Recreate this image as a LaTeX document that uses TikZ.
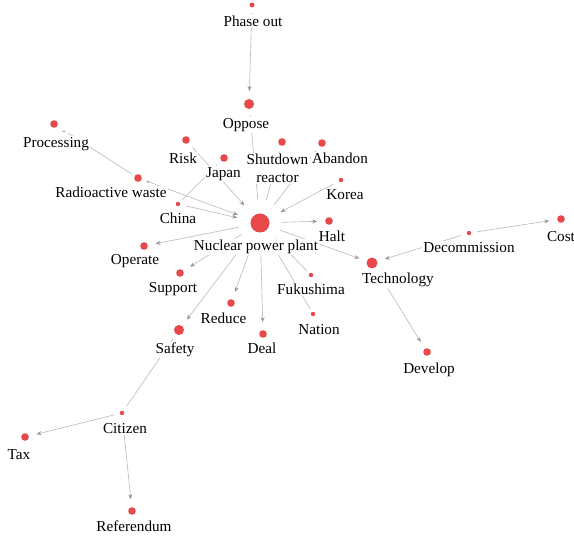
\documentclass[tikz,border=0pt]{standalone}
\usepackage{fontspec}
\setmainfont{Liberation Serif}
\usetikzlibrary{arrows.meta}
\definecolor{dotred}{RGB}{232,72,74}
\definecolor{edgegray}{RGB}{185,185,185}
\definecolor{tipgray}{RGB}{150,150,150}
\pgfdeclarelayer{edges}
\pgfsetlayers{edges,main}
\tikzset{
  dot/.style={circle,fill=dotred,draw=none,inner sep=0pt,outer sep=0pt,minimum size=#1},
  lbl/.style={anchor=base,fill=white,inner sep=1.2pt,font=\fontsize{15.2}{18}\selectfont},
  link/.style={draw=edgegray,line width=0.6pt,shorten <=6pt,shorten >=3.5pt},
  arr/.style={link,shorten >=8pt,-{Stealth[length=5pt,width=4pt,fill=tipgray,color=tipgray]}},
}
\begin{document}
\begin{tikzpicture}[x=1pt,y=-1pt]
\useasboundingbox (0,0) rectangle (574,537);
% labels
\node[lbl] (lphase) at (253,26.5) {Phase out};
\node[lbl] (loppose) at (246,128.5) {Oppose};
\node[lbl] (lproc) at (56,147.5) {Processing};
\node[lbl] (lrisk) at (183,163.5) {Risk};
\node[lbl] (ljapan) at (223.5,177.5) {Japan};
\node[lbl,align=center] (lshut) at (277.5,182.5) {Shutdown\\reactor};
\node[lbl] (laband) at (340,163.5) {Abandon};
\node[lbl] (lkorea) at (345,200) {Korea};
\node[lbl] (lrad) at (111,197.5) {Radioactive waste};
\node[lbl] (lchina) at (178,223.5) {China};
\node[lbl] (lplant) at (256,250.5) {Nuclear power plant};
\node[lbl] (lhalt) at (332,242) {Halt};
\node[lbl] (loper) at (135,265) {Operate};
\node[lbl] (lsupp) at (173,293) {Support};
\node[lbl] (lfuku) at (311,294.5) {Fukushima};
\node[lbl] (ltech) at (398,283.5) {Technology};
\node[lbl] (ldecom) at (469,252.5) {Decommission};
\node[lbl] (lcost) at (561,241.5) {Cost};
\node[lbl] (lred) at (223.5,323.5) {Reduce};
\node[lbl] (lnat) at (319,334.5) {Nation};
\node[lbl] (lsafe) at (175,354) {Safety};
\node[lbl] (ldeal) at (262,353.5) {Deal};
\node[lbl] (ldev) at (429,373.5) {Develop};
\node[lbl] (lcit) at (125,433.5) {Citizen};
\node[lbl] (ltax) at (19,459.5) {Tax};
\node[lbl] (lref) at (134,531.5) {Referendum};
% dots
\node[dot=5pt] (phase) at (252,5) {};
\node[dot=10pt] (oppose) at (249,104) {};
\node[dot=7.6pt] (proc) at (54,124) {};
\node[dot=7.6pt] (risk) at (186,140) {};
\node[dot=7.6pt] (japan) at (224,158) {};
\node[dot=7.6pt] (shut) at (282,142) {};
\node[dot=7.6pt] (aband) at (322,143) {};
\node[dot=4.4pt] (korea) at (341,180) {};
\node[dot=7.6pt] (rad) at (138,178) {};
\node[dot=4.4pt] (china) at (178,204) {};
\node[dot=19pt,outer sep=6pt] (plant) at (260,223) {};
\node[dot=7.6pt] (halt) at (329,221) {};
\node[dot=7.6pt] (oper) at (144,246) {};
\node[dot=7.6pt] (supp) at (180,273) {};
\node[dot=4.4pt] (fuku) at (311,275) {};
\node[dot=11pt] (tech) at (372,263) {};
\node[dot=4.4pt] (decom) at (469,233) {};
\node[dot=7.6pt] (cost) at (561,219) {};
\node[dot=7.6pt] (red) at (231,303) {};
\node[dot=4.4pt] (nat) at (313,314) {};
\node[dot=10pt] (safe) at (179,330) {};
\node[dot=7.6pt] (deal) at (263,334) {};
\node[dot=7.6pt] (dev) at (427,352) {};
\node[dot=4.4pt] (cit) at (122,413) {};
\node[dot=7.6pt] (tax) at (25,437) {};
\node[dot=7.6pt] (ref) at (132,511) {};
\coordinate (mk1) at (64,131);
\coordinate (mk2) at (148,181.5);
\begin{pgfonlayer}{edges}
\draw[arr] (phase) -- (oppose);
\draw[link,shorten >=8pt] (oppose) -- (plant);
\draw[link,shorten >=8pt] (shut) -- (plant);
\draw[link,shorten >=8pt] (aband) -- (plant);
\draw[arr] (korea) -- (plant);
\draw[arr] (risk) -- (plant);
\draw[link] (japan) -- (china);
\draw[arr] (rad) -- (plant);
\draw[arr] (china) -- (plant);
\draw[link,shorten <=13pt] (proc) -- (rad);
\draw[arr] (plant) -- (halt);
\draw[arr] (plant) -- (oper);
\draw[arr] (plant) -- (supp);
\draw[arr] (plant) -- (tech);
\draw[link] (plant) -- (fuku);
\draw[link] (plant) -- (nat);
\draw[arr] (plant) -- (deal);
\draw[arr] (plant) -- (red);
\draw[arr] (plant) -- (safe);
\draw[link,shorten >=6pt] (safe) -- (cit);
\draw[arr] (cit) -- (tax);
\draw[arr] (cit) -- (ref);
\draw[arr] (tech) -- (dev);
\draw[arr] (decom) -- (tech);
\draw[arr] (decom) -- (cost);
\end{pgfonlayer}
\fill[tipgray] ([xshift=-1.6pt]mk1) -- ([xshift=1.6pt]mk1) -- ([yshift=-1.4pt]mk1) -- cycle;
\fill[tipgray] ([xshift=-1.6pt]mk2) -- ([xshift=1.6pt]mk2) -- ([yshift=-1.4pt]mk2) -- cycle;
\end{tikzpicture}
\end{document}
